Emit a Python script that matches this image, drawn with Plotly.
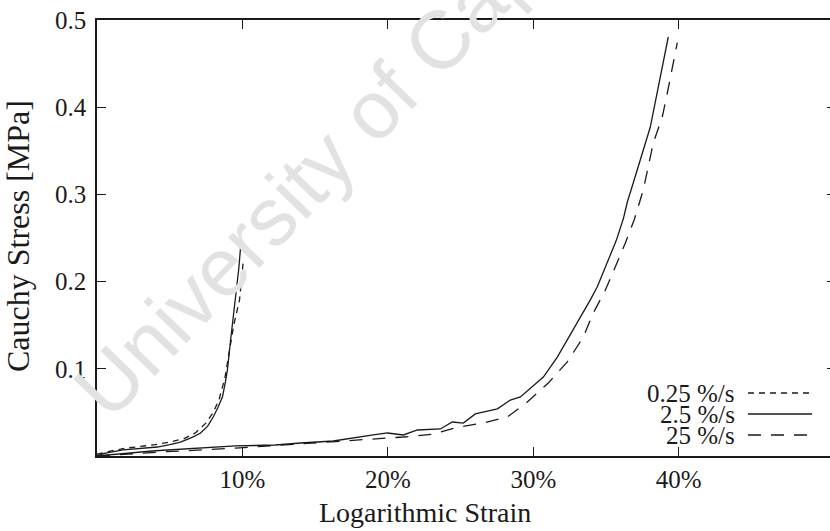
import plotly.graph_objects as go

# ---- data (strain in %, stress in MPa) ----
left_slow_x = [0, 1, 2, 3, 4, 5, 6, 6.8, 7.5, 8.0, 8.4, 8.8, 9.1, 9.4, 9.8, 10.05]
left_slow_y = [0.002, 0.006, 0.009, 0.011, 0.013, 0.016, 0.020, 0.027, 0.038, 0.050, 0.065, 0.090, 0.120, 0.150, 0.179, 0.222]

left_mid_x = [0, 0.5, 1.8, 3, 4.15, 5, 5.74, 6.5, 7.1, 7.6, 8.0, 8.3, 8.63, 8.83, 8.97, 9.2, 9.52, 9.75, 9.93]
left_mid_y = [0.0, 0.003, 0.007, 0.009, 0.0103, 0.013, 0.016, 0.021, 0.026, 0.034, 0.045, 0.055, 0.068, 0.085, 0.099, 0.135, 0.179, 0.215, 0.251]

right_mid_x = [0, 4.0, 9.52, 12.27, 13.99, 16.25, 18.99, 19.97, 21.07, 22.03, 23.61, 24.43, 25.19, 26.01,
               27.53, 28.42, 29.11, 30.69, 31.65, 32.75, 33.92, 34.40, 35.09, 35.7, 36.19, 36.46, 36.87, 38.04, 39.28]
right_mid_y = [0.0, 0.006, 0.0115, 0.0126, 0.0149, 0.0172, 0.0241, 0.0264, 0.0241, 0.0298, 0.031, 0.039, 0.0378, 0.0482,
               0.054, 0.0642, 0.0677, 0.0906, 0.1135, 0.1445, 0.179, 0.194, 0.221, 0.247, 0.272, 0.291, 0.313, 0.377, 0.4805]

right_fast_x = [0, 4.36, 9.52, 13.99, 18.1, 21.07, 23.13, 24.78, 26.56, 28.21, 29.59, 31.03, 32.34, 33.44,
                34.12, 34.95, 35.64, 36.32, 36.94, 37.56, 38.25, 38.87, 39.21, 39.56, 39.9]
right_fast_y = [0, 0.0046, 0.009, 0.0138, 0.018, 0.0218, 0.025, 0.033, 0.0378, 0.0447, 0.062, 0.0837, 0.108, 0.1365,
                0.164, 0.19, 0.217, 0.244, 0.271, 0.305, 0.359, 0.389, 0.416, 0.446, 0.474]

rate_labels = ["0.25 %/s", "2.5 %/s", "25 %/s"]
x_ticks = [10, 20, 30, 40]
x_tick_text = ["10%", "20%", "30%", "40%"]
y_ticks = [0.1, 0.2, 0.3, 0.4, 0.5]
y_tick_text = ["0.1", "0.2", "0.3", "0.4", "0.5"]

# ---- styles ----
INK = "#1a1a1a"
FONT = "Liberation Serif"
dash_styles = ["6px,5px", "solid", "13px,10px"]
LW = 1.3

W, H = 830, 531
ML, MR, MT, MB = 97, 0, 20, 75
PW, PH = W - ML - MR, H - MT - MB

def px(xp):
    return (xp - ML) / PW

def py(yp):
    return (H - MB - yp) / PH

fig = go.Figure()
series = [
    (left_slow_x, left_slow_y, dash_styles[0]),
    (left_mid_x, left_mid_y, dash_styles[1]),
    (right_mid_x, right_mid_y, dash_styles[1]),
    (right_fast_x, right_fast_y, dash_styles[2]),
]
for xs, ys, d in series:
    fig.add_trace(go.Scatter(x=xs, y=ys, mode="lines",
                             line=dict(color=INK, width=LW, dash=d),
                             showlegend=False, hoverinfo="skip"))

# helper trace for right-side tick axis
fig.add_trace(go.Scatter(x=[None], y=[None], yaxis="y2", showlegend=False))

annotations = []
shapes = []
# watermark
annotations.append(dict(text="University of Cape Town", x=px(396), y=py(86), xref="paper", yref="paper",
                        showarrow=False, textangle=-46, xanchor="center", yanchor="middle",
                        font=dict(family="Liberation Sans", size=82, color="#e2e2e2")))
# manual legend
rows_y = [393, 414, 435]
for lab, d, ry in zip(rate_labels, dash_styles, rows_y):
    annotations.append(dict(text=lab, x=px(737), y=py(ry), xref="paper", yref="paper",
                            showarrow=False, xanchor="right", yanchor="middle",
                            font=dict(family=FONT, size=25, color=INK)))
    shapes.append(dict(type="line", xref="paper", yref="paper",
                       x0=px(748), x1=px(812), y0=py(ry), y1=py(ry),
                       line=dict(color=INK, width=LW, dash=d)))
# axis titles
annotations.append(dict(text="Logarithmic Strain", x=px(425), y=py(512), xref="paper", yref="paper",
                        showarrow=False, xanchor="center", yanchor="middle",
                        font=dict(family=FONT, size=28, color=INK)))
annotations.append(dict(text="Cauchy Stress [MPa]", x=px(18), y=py(236), xref="paper", yref="paper",
                        showarrow=False, xanchor="center", yanchor="middle", textangle=-90,
                        font=dict(family=FONT, size=32, color=INK)))

fig.update_layout(
    width=W, height=H,
    margin=dict(l=ML, r=MR, t=MT, b=MB),
    paper_bgcolor="white", plot_bgcolor="white",
    font=dict(family=FONT, size=25, color=INK),
    xaxis=dict(range=[0, 50.4], tickvals=x_ticks, ticktext=x_tick_text,
               ticks="inside", ticklen=9, tickwidth=1.2, tickcolor=INK,
               showline=True, linecolor=INK, linewidth=1.5, mirror="ticks",
               showgrid=False, zeroline=False, ticklabelstandoff=0),
    yaxis=dict(range=[0, 0.5], tickvals=y_ticks, ticktext=y_tick_text,
               ticks="inside", ticklen=9, tickwidth=1.2, tickcolor=INK,
               showline=True, linecolor=INK, linewidth=1.5, mirror=False,
               showgrid=False, zeroline=False, ticklabelstandoff=4),
    yaxis2=dict(range=[0, 0.5], tickvals=y_ticks, overlaying="y", side="right",
                ticks="inside", ticklen=3, tickwidth=1.2, tickcolor=INK,
                showticklabels=False, showline=False, showgrid=False, zeroline=False),
    annotations=annotations,
    shapes=shapes,
)

fig.write_html("out.html")
